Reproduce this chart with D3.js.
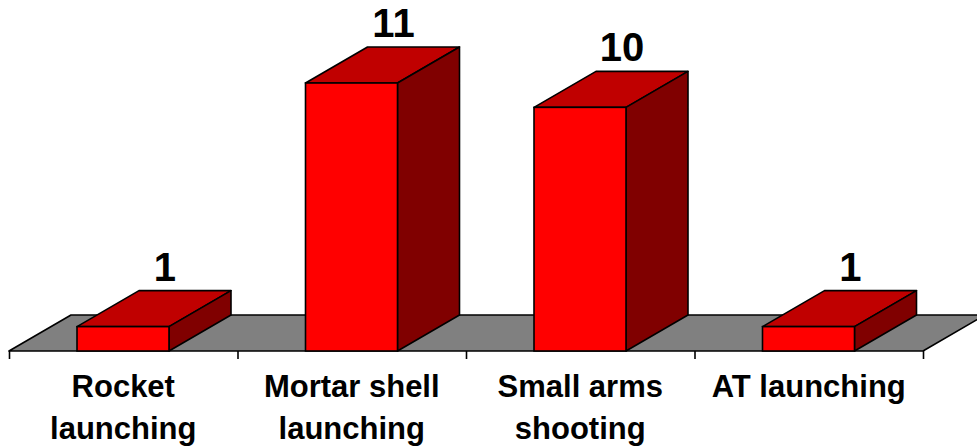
<!DOCTYPE html>
<html>
<head>
<meta charset="utf-8">
<script src="https://cdn.jsdelivr.net/npm/d3@7"></script>
<style>
  html, body { margin: 0; padding: 0; background: #fff; }
  svg { display: block; }
</style>
</head>
<body>
<svg id="chart" width="977" height="448"></svg>
<script>
const categories = ["Rocket launching", "Mortar shell launching", "Small arms shooting", "AT launching"];
const categoryLines = [["Rocket", "launching"], ["Mortar shell", "launching"], ["Small arms", "shooting"], ["AT launching"]];
const values = [1, 11, 10, 1];

const svg = d3.select("#chart");
const W = 977, H = 448;
const floorY = 351;
const depthX = 62, depthY = -36;
const font = "'Liberation Sans', Arial, Helvetica, sans-serif";

const x = d3.scaleBand().domain(categories).range([9, 923]).paddingInner(0).paddingOuter(0);
const y = d3.scaleLinear().domain([0, 11]).range([floorY, 83]);
const idx = d3.scaleLinear().domain([0, categories.length]).range([9, 923]);

// floor
const x0 = idx(0), x1 = idx(categories.length);
svg.append("path")
  .attr("d", `M${x0},${floorY} L${x1},${floorY} L${x1 + depthX},${floorY + depthY} L${x0 + depthX},${floorY + depthY} Z`)
  .attr("fill", "#808080")
  .attr("stroke", "#000")
  .attr("stroke-width", 1.6)
  .attr("stroke-linejoin", "round");

// ticks at category boundaries
const axis = d3.axisBottom(idx).tickValues(d3.range(categories.length + 1)).tickSize(8).tickFormat("");
const gAxis = svg.append("g").attr("transform", `translate(0,${floorY})`).call(axis);
gAxis.select(".domain").remove();
gAxis.selectAll(".tick line").attr("stroke", "#000").attr("stroke-width", 1.6);

// bars
const barOff = 0.2976, barW = 0.4026;
const bars = svg.append("g").selectAll("g.bar").data(categories.map((c, i) => ({c, v: values[i]}))).join("g");
bars.each(function(d) {
  const g = d3.select(this);
  const bw = x.bandwidth();
  const L = x(d.c) + bw * barOff;
  const R = L + bw * barW;
  const T = y(d.v), B = y(0);
  // top
  g.append("path")
    .attr("d", `M${L},${T} L${R},${T} L${R + depthX},${T + depthY} L${L + depthX},${T + depthY} Z`)
    .attr("fill", "#C00000").attr("stroke", "#000").attr("stroke-width", 1.6).attr("stroke-linejoin", "round");
  // side
  g.append("path")
    .attr("d", `M${R},${T} L${R + depthX},${T + depthY} L${R + depthX},${B + depthY} L${R},${B} Z`)
    .attr("fill", "#800000").attr("stroke", "#000").attr("stroke-width", 1.6).attr("stroke-linejoin", "round");
  // front
  g.append("rect")
    .attr("x", L).attr("y", T).attr("width", R - L).attr("height", B - T)
    .attr("fill", "#FF0000").attr("stroke", "#000").attr("stroke-width", 1.6);
  // value label
  g.append("text")
    .attr("x", (L + R) / 2 + 42)
    .attr("y", T + depthY - 10)
    .attr("text-anchor", "middle")
    .attr("font-family", font).attr("font-weight", "bold").attr("font-size", 40)
    .attr("fill", "#000")
    .text(d.v);
});

// category labels
categories.forEach((c, i) => {
  const cx = x(c) + x.bandwidth() / 2;
  const t = svg.append("text")
    .attr("text-anchor", "middle")
    .attr("font-family", font).attr("font-weight", "bold").attr("font-size", 31)
    .attr("fill", "#000");
  categoryLines[i].forEach((ln, j) => {
    t.append("tspan").attr("x", cx).attr("y", 397 + j * 42).text(ln);
  });
});
</script>
</body>
</html>
